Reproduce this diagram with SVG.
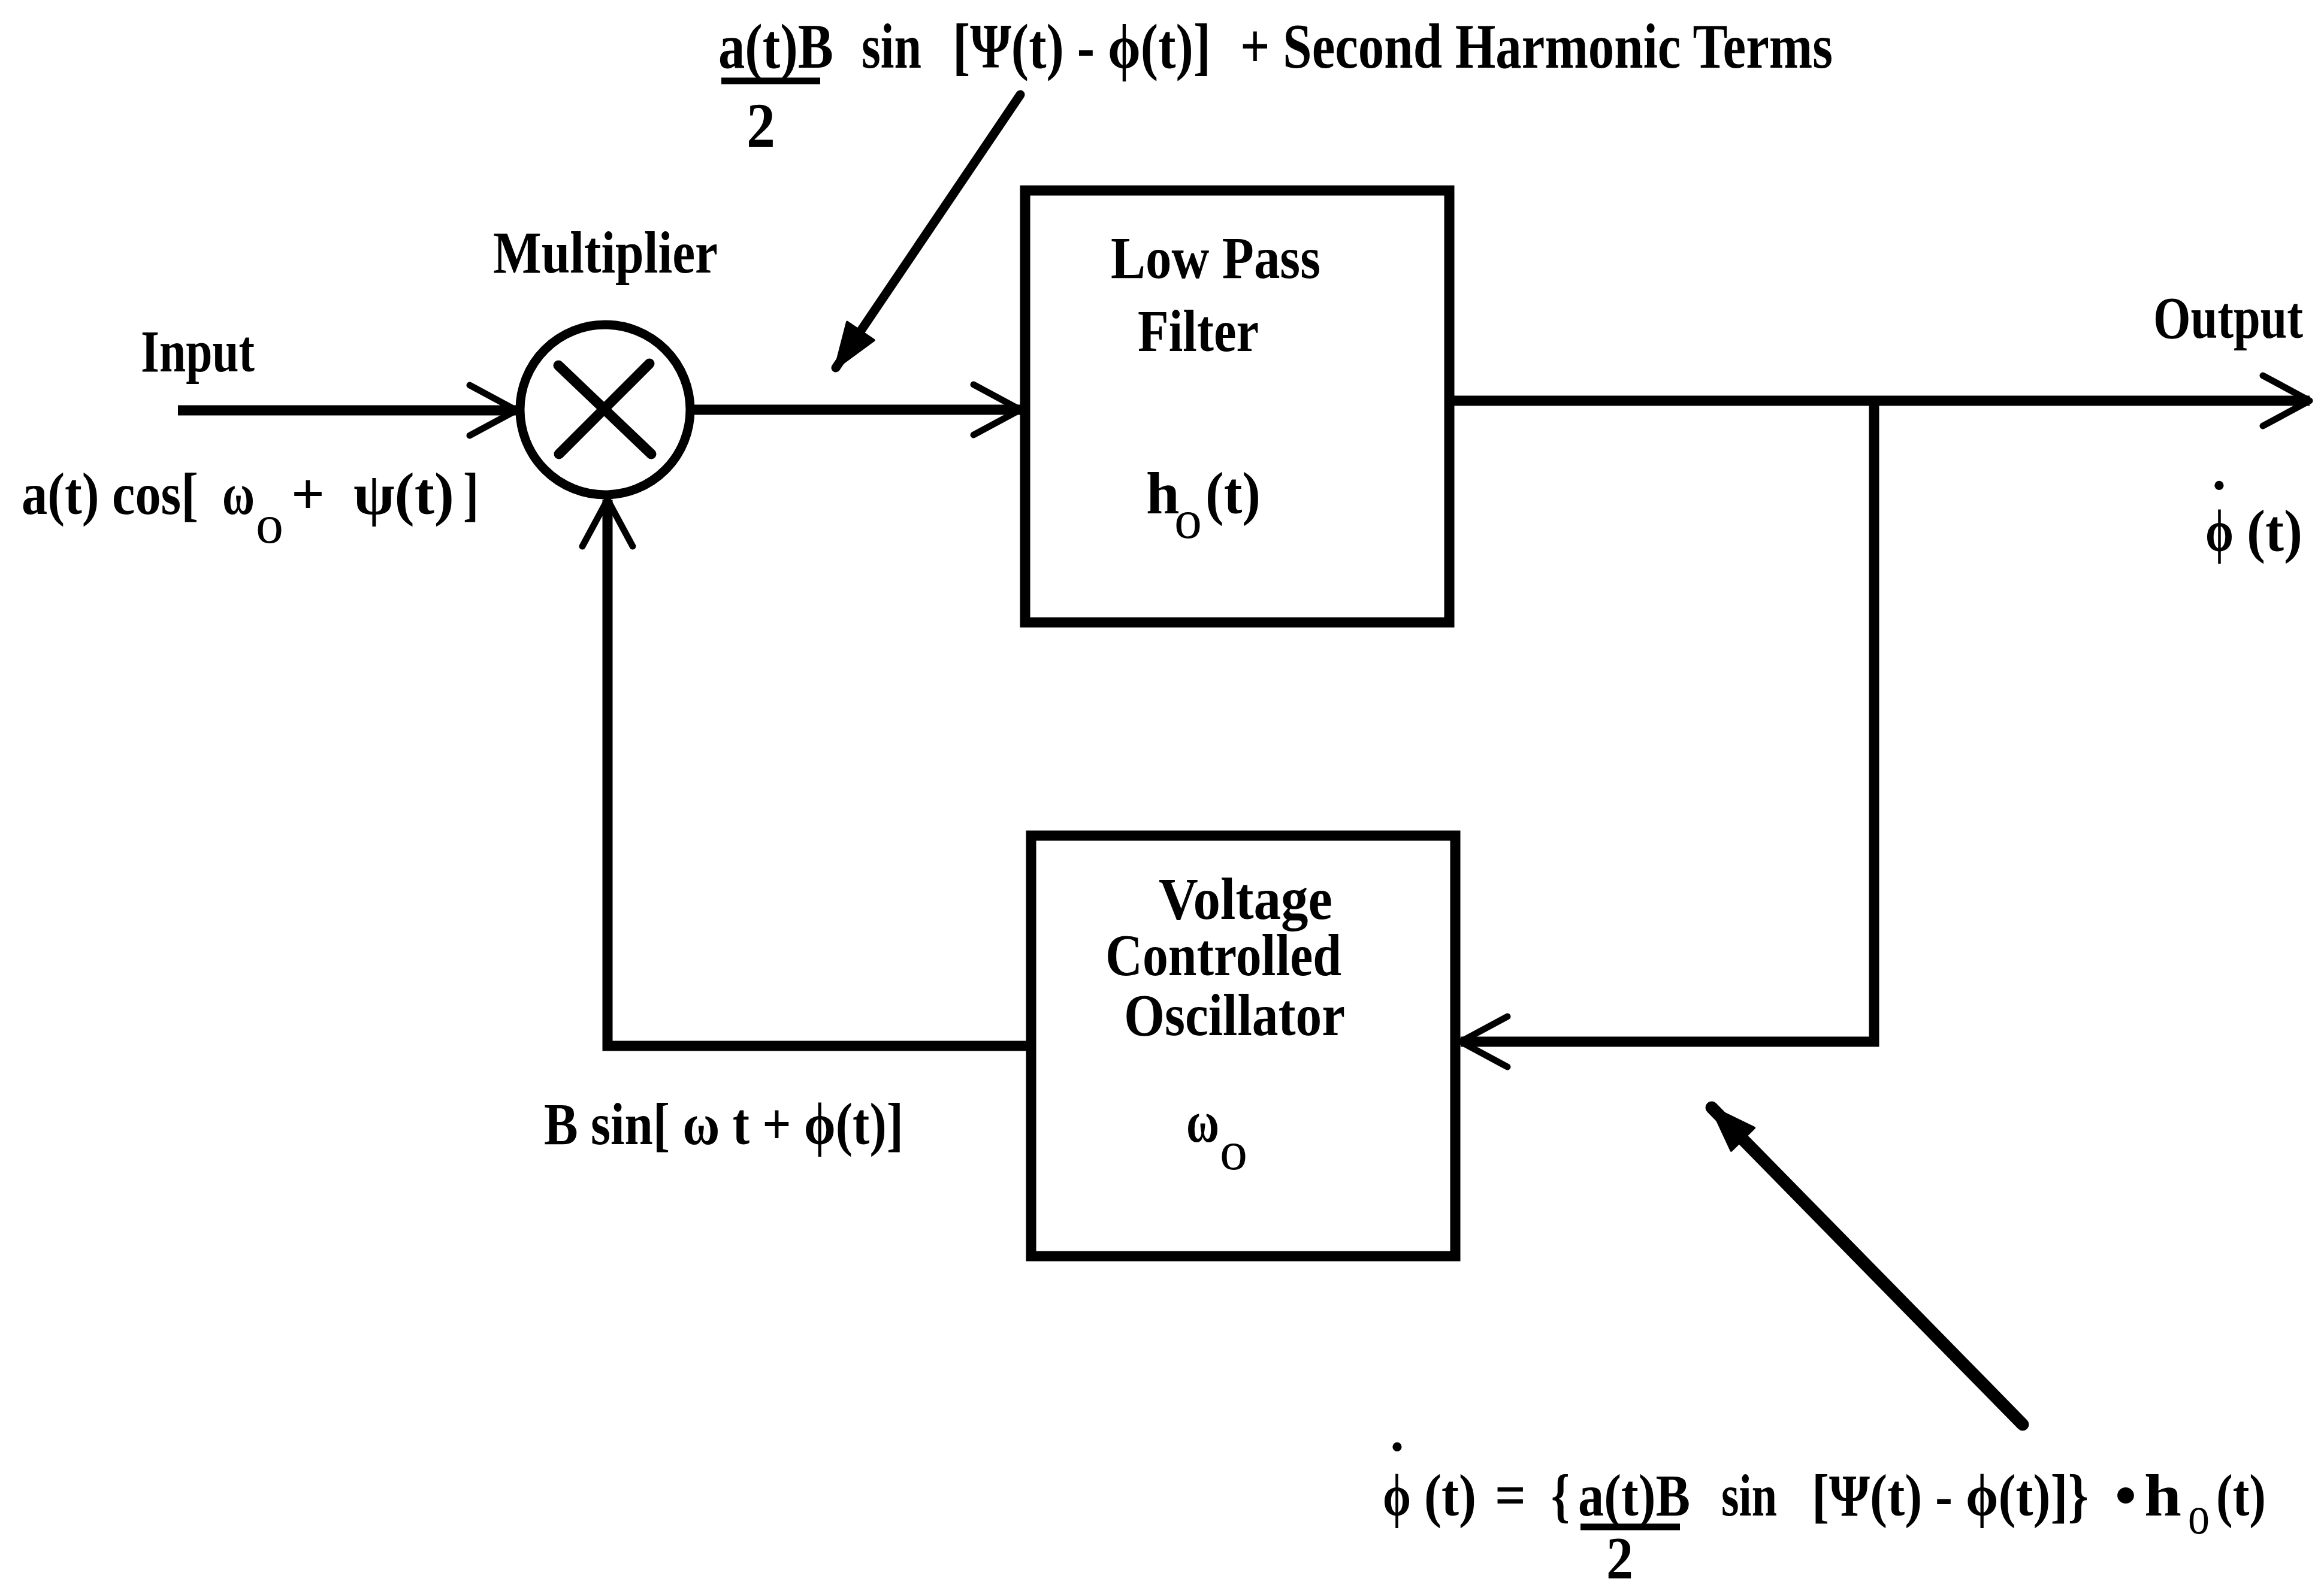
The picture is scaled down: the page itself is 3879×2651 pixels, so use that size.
<svg xmlns="http://www.w3.org/2000/svg" width="3879" height="2651" viewBox="0 0 3879 2651">
<style>
.t{font-family:'Liberation Serif','Times New Roman','DejaVu Serif',serif;font-weight:bold;font-size:100px;fill:#000}
.big{font-size:106px}
.sub{font-weight:normal;font-size:92px}
.dot{font-family:'Liberation Serif','DejaVu Serif',serif;font-size:64px;fill:#000;text-anchor:middle}
.ln{fill:none;stroke:#000;stroke-width:17;stroke-linecap:butt}
.box{fill:#fff;stroke:#000;stroke-width:17}
.bar{stroke:#000;stroke-width:11}
</style>
<defs>
<marker id="open" viewBox="-100 -60 120 120" refX="0" refY="0" markerWidth="120" markerHeight="120" markerUnits="userSpaceOnUse" orient="auto" overflow="visible">
<path d="M -78 -42 L 0 0 L -78 42" fill="none" stroke="#000" stroke-width="11" stroke-linejoin="round" stroke-linecap="round"/>
</marker>
<marker id="solid" viewBox="-100 -60 120 120" refX="0" refY="0" markerWidth="120" markerHeight="120" markerUnits="userSpaceOnUse" orient="auto" overflow="visible">
<path d="M -74 -27 L 2 0 L -74 27 Z" fill="#000" stroke="#000" stroke-width="4" stroke-linejoin="round"/>
</marker>
</defs>
<rect x="0" y="0" width="3879" height="2651" fill="#fff"/>

<g id="connectors">
<path class="ln" d="M 297 685 L 862 685" marker-end="url(#open)"/>
<path class="ln" d="M 1158 684 L 1703 684" marker-end="url(#open)"/>
<path class="ln" d="M 2427 669 L 3855 669" marker-end="url(#open)"/>
<path class="ln" d="M 3128 669 L 3128 1739 L 2438 1739" marker-end="url(#open)"/>
<path class="ln" d="M 1721 1746 L 1014 1746 L 1014 834" marker-end="url(#open)"/>
<path d="M 1703 158 L 1395 614" fill="none" stroke="#000" stroke-width="15" stroke-linecap="round" marker-end="url(#solid)"/>
<path d="M 3376 2378 L 2857 1849" fill="none" stroke="#000" stroke-width="21" stroke-linecap="round" marker-end="url(#solid)"/>
</g>

<g id="multiplier">
<circle cx="1010" cy="684" r="142" fill="#fff" stroke="#000" stroke-width="15"/>
<path d="M 932 610 L 1087 758 M 1084 607 L 933 758" fill="none" stroke="#000" stroke-width="17" stroke-linecap="round"/>
<text class="t" x="823" y="455" textLength="375" lengthAdjust="spacingAndGlyphs">Multiplier</text>
</g>

<g id="lpf">
<rect class="box" x="1711" y="318" width="708" height="721"/>
<text class="t" x="1854" y="464" textLength="350" lengthAdjust="spacingAndGlyphs">Low Pass</text>
<text class="t" x="1899" y="586" textLength="202" lengthAdjust="spacingAndGlyphs">Filter</text>
<text class="t" x="1913" y="857">h</text>
<text class="t sub" x="1960" y="898">o</text>
<text class="t" x="2012" y="857" textLength="92" lengthAdjust="spacingAndGlyphs">(t)</text>
</g>

<g id="vco">
<rect class="box" x="1721" y="1395" width="708" height="702"/>
<text class="t" x="1934" y="1534" textLength="290" lengthAdjust="spacingAndGlyphs">Voltage</text>
<text class="t" x="1845" y="1628" textLength="394" lengthAdjust="spacingAndGlyphs">Controlled</text>
<text class="t" x="1876" y="1728" textLength="369" lengthAdjust="spacingAndGlyphs">Oscillator</text>
<text class="t" x="1980" y="1906" textLength="55" lengthAdjust="spacingAndGlyphs">ω</text>
<text class="t sub" x="2036" y="1952">o</text>
</g>

<g id="input-label">
<text class="t" x="235" y="620" textLength="190" lengthAdjust="spacingAndGlyphs">Input</text>
<text class="t" x="36" y="858" textLength="295" lengthAdjust="spacingAndGlyphs">a(t) cos[</text>
<text class="t" x="371" y="858" textLength="54" lengthAdjust="spacingAndGlyphs">ω</text>
<text class="t sub" x="427" y="906">o</text>
<text class="t" x="486" y="858" textLength="56" lengthAdjust="spacingAndGlyphs">+</text>
<text class="t" x="590" y="858" textLength="168" lengthAdjust="spacingAndGlyphs">ψ(t)</text>
<text class="t" x="773" y="858" textLength="26" lengthAdjust="spacingAndGlyphs">]</text>
</g>

<g id="output-label">
<text class="t" x="3594" y="564" textLength="250" lengthAdjust="spacingAndGlyphs">Output</text>
<text class="dot" x="3704" y="832">•</text>
<text class="t" x="3681" y="920" textLength="47" lengthAdjust="spacingAndGlyphs">ϕ</text>
<text class="t" x="3750" y="920" textLength="93" lengthAdjust="spacingAndGlyphs">(t)</text>
</g>

<g id="vco-output-label">
<text class="t" x="908" y="1910" textLength="600" lengthAdjust="spacingAndGlyphs">B sin[ ω t + ϕ(t)]</text>
</g>

<g id="multiplier-output-label">
<text class="t big" x="1199" y="113" textLength="192" lengthAdjust="spacingAndGlyphs">a(t)B</text>
<line class="bar" x1="1204" y1="135" x2="1369" y2="135"/>
<text class="t big" x="1246" y="245" textLength="48" lengthAdjust="spacingAndGlyphs">2</text>
<text class="t big" x="1438" y="113" textLength="100" lengthAdjust="spacingAndGlyphs">sin</text>
<text class="t big" x="1590" y="113" textLength="431" lengthAdjust="spacingAndGlyphs">[Ψ(t) - ϕ(t)]</text>
<text class="t big" x="2070" y="113" textLength="989" lengthAdjust="spacingAndGlyphs">+ Second Harmonic Terms</text>
</g>

<g id="equation-label">
<text class="dot" x="2332" y="2437">•</text>
<text class="t" x="2308" y="2530" textLength="47" lengthAdjust="spacingAndGlyphs">ϕ</text>
<text class="t" x="2377" y="2530" textLength="87" lengthAdjust="spacingAndGlyphs">(t)</text>
<text class="t" x="2495" y="2530" textLength="52" lengthAdjust="spacingAndGlyphs">=</text>
<text class="t" x="2589" y="2530" textLength="31" lengthAdjust="spacingAndGlyphs">{</text>
<text class="t" x="2634" y="2530" textLength="187" lengthAdjust="spacingAndGlyphs">a(t)B</text>
<line class="bar" x1="2638" y1="2549" x2="2804" y2="2549"/>
<text class="t" x="2681" y="2634" textLength="45" lengthAdjust="spacingAndGlyphs">2</text>
<text class="t" x="2873" y="2530" textLength="93" lengthAdjust="spacingAndGlyphs">sin</text>
<text class="t" x="3024" y="2530" textLength="462" lengthAdjust="spacingAndGlyphs">[Ψ(t) - ϕ(t)]}</text>
<text class="t" x="3530" y="2530" textLength="36" lengthAdjust="spacingAndGlyphs">•</text>
<text class="t" x="3579" y="2530" textLength="62" lengthAdjust="spacingAndGlyphs">h</text>
<text class="t sub" x="3652" y="2560" textLength="36" lengthAdjust="spacingAndGlyphs">o</text>
<text class="t" x="3699" y="2530" textLength="83" lengthAdjust="spacingAndGlyphs">(t)</text>
</g>
</svg>
